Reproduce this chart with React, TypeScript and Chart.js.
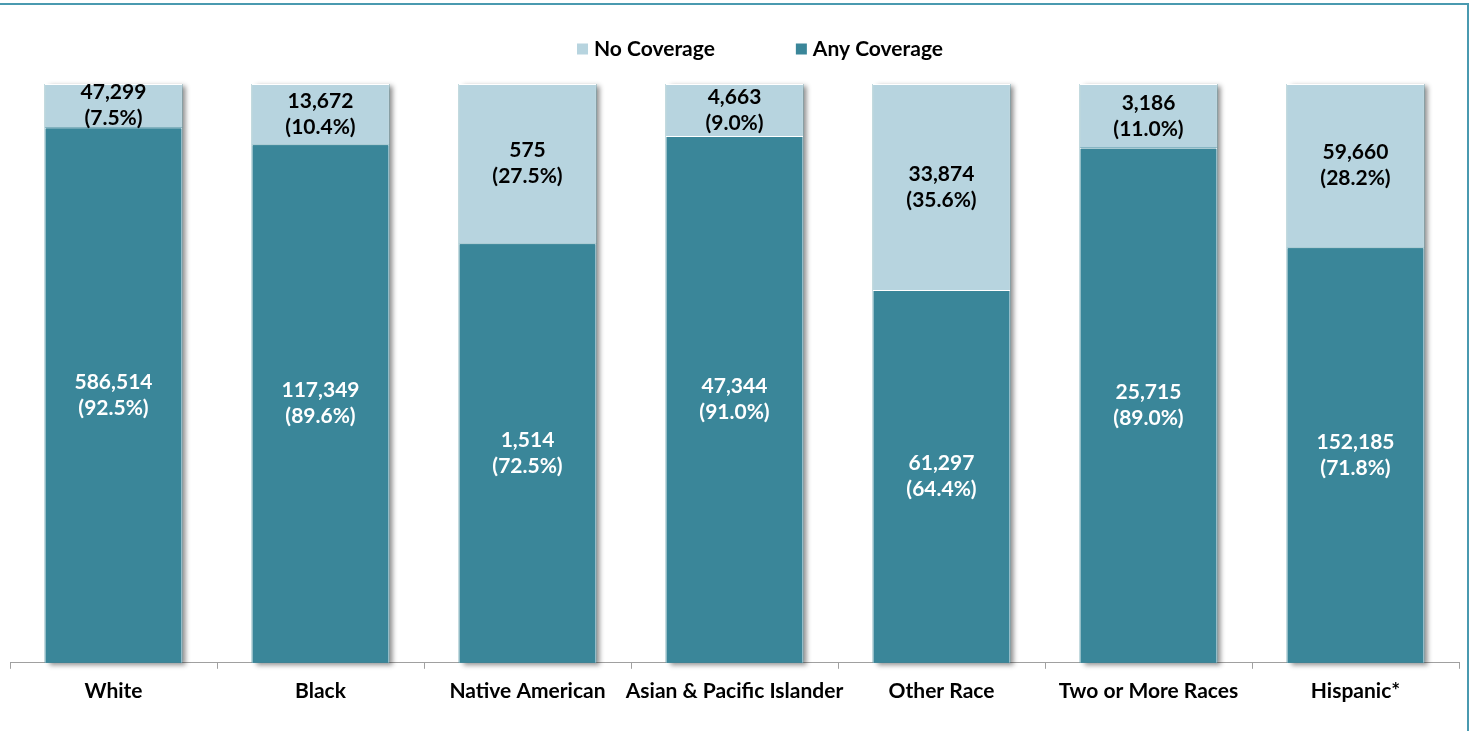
import React, { useEffect, useRef } from "react";
import { Chart, registerables } from "chart.js";

Chart.register(...registerables);

const categories = [
  "White",
  "Black",
  "Native American",
  "Asian & Pacific Islander",
  "Other Race",
  "Two or More Races",
  "Hispanic*",
];
const anyCoveragePct = [92.5, 89.6, 72.5, 91.0, 64.4, 89.0, 71.8];
const noCoveragePct = [7.5, 10.4, 27.5, 9.0, 35.6, 11.0, 28.2];
const anyCoverageCount = [586514, 117349, 1514, 47344, 61297, 25715, 152185];
const noCoverageCount = [47299, 13672, 575, 4663, 33874, 3186, 59660];
const seriesNames = ["Any Coverage", "No Coverage"];

const DARK = "#3A8699";
const LIGHT = "#B7D4DF";
const FONT = "Lato";
const FS = 21;

const fmt = (n: number) => n.toLocaleString("en-US");

const shadowPlugin = {
  id: "barShadow",
  beforeDatasetsDraw(chart: any) {
    const ctx = chart.ctx;
    const m0 = chart.getDatasetMeta(0);
    const m1 = chart.getDatasetMeta(1);
    ctx.save();
    ctx.shadowColor = "rgba(0,0,0,0.45)";
    ctx.shadowBlur = 5;
    ctx.shadowOffsetX = 4;
    ctx.shadowOffsetY = 2;
    ctx.fillStyle = DARK;
    m0.data.forEach((el: any, i: number) => {
      const p = el.getProps(["x", "base", "width"], true);
      const top = m1.data[i].getProps(["y"], true).y;
      ctx.fillRect(p.x - p.width / 2, top, p.width, p.base - top);
    });
    ctx.restore();
  },
};

const labelPlugin = {
  id: "segLabels",
  afterDatasetsDraw(chart: any) {
    const ctx = chart.ctx;
    ctx.save();
    ctx.font = `bold ${FS}px ${FONT}`;
    ctx.textAlign = "center";
    ctx.textBaseline = "middle";
    const info = [
      { counts: anyCoverageCount, pcts: anyCoveragePct, color: "#FFFFFF" },
      { counts: noCoverageCount, pcts: noCoveragePct, color: "#000000" },
    ];
    info.forEach((d, di) => {
      const meta = chart.getDatasetMeta(di);
      meta.data.forEach((el: any, i: number) => {
        const p = el.getProps(["x", "y", "base"], true);
        const cy = (p.y + p.base) / 2;
        ctx.fillStyle = d.color;
        ctx.fillText(fmt(d.counts[i]), p.x, cy - 13);
        ctx.fillText(`(${d.pcts[i].toFixed(1)}%)`, p.x, cy + 13);
      });
    });
    ctx.restore();
  },
};

const legendPlugin = {
  id: "customLegend",
  afterDraw(chart: any) {
    const ctx = chart.ctx;
    ctx.save();
    ctx.font = `bold ${FS}px ${FONT}`;
    ctx.textBaseline = "middle";
    ctx.textAlign = "left";
    const items = [
      { text: seriesNames[1], color: LIGHT },
      { text: seriesNames[0], color: DARK },
    ];
    const box = 11;
    const gapText = 6;
    const gapItem = 81;
    const widths = items.map((it) => box + gapText + ctx.measureText(it.text).width);
    const total = widths.reduce((a, b) => a + b, 0) + gapItem * (items.length - 1);
    let x = 760 - total / 2;
    const y = 49;
    items.forEach((it, i) => {
      ctx.fillStyle = it.color;
      ctx.fillRect(x, y - box / 2, box, box);
      ctx.fillStyle = "#000000";
      ctx.fillText(it.text, x + box + gapText, y);
      x += widths[i] + gapItem;
    });
    ctx.restore();
  },
};

export default function App() {
  const ref = useRef<HTMLCanvasElement | null>(null);
  useEffect(() => {
    if (!ref.current) return;
    const chart = new Chart(ref.current, {
      type: "bar",
      data: {
        labels: categories,
        datasets: [
          {
            label: seriesNames[0],
            data: anyCoveragePct,
            backgroundColor: DARK,
            borderColor: "#FFFFFF",
            borderWidth: 1,
            categoryPercentage: 1,
            barPercentage: 0.665,
          },
          {
            label: seriesNames[1],
            data: noCoveragePct,
            backgroundColor: LIGHT,
            borderColor: "#FFFFFF",
            borderWidth: 1,
            categoryPercentage: 1,
            barPercentage: 0.665,
          },
        ],
      },
      options: {
        responsive: false,
        animation: false,
        layout: { padding: { left: 10, right: 14, top: 84, bottom: 17 } },
        plugins: {
          legend: { display: false },
          tooltip: { enabled: false },
        },
        scales: {
          x: {
            stacked: true,
            grid: {
              offset: true,
              drawOnChartArea: false,
              drawTicks: true,
              tickLength: 6,
              color: "#A0A0A0",
            },
            border: { color: "#A0A0A0", width: 1 },
            ticks: {
              color: "#000000",
              padding: 10,
              maxRotation: 0,
              autoSkip: false,
              font: { family: FONT, size: FS, weight: "bold" },
            },
          },
          y: {
            stacked: true,
            display: false,
            min: 0,
            max: 100,
          },
        },
      },
      plugins: [shadowPlugin, labelPlugin, legendPlugin],
    });
    return () => chart.destroy();
  }, []);

  return (
    <div style={{ position: "absolute", left: 0, top: 0, width: 1473, height: 731, background: "#FFFFFF", overflow: "hidden" }}>
      <canvas ref={ref} width={1473} height={731} style={{ position: "absolute", left: 0, top: 0 }} />
      <div
        style={{
          position: "absolute",
          left: 0,
          top: 3,
          width: 1469,
          height: 728,
          boxSizing: "border-box",
          borderTop: "2px solid #4A9AB0",
          borderRight: "2px solid #4A9AB0",
          pointerEvents: "none",
        }}
      />
    </div>
  );
}
